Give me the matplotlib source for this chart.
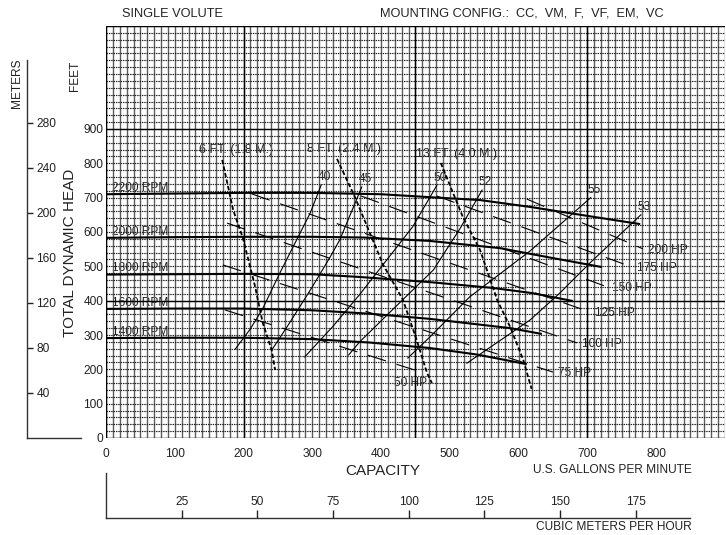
import numpy as np
import matplotlib.pyplot as plt

plt.rcParams['font.family'] = ['Liberation Sans', 'DejaVu Sans']

# head-capacity curves, capacity in US GPM, head in feet
rpm_names = ['2200 RPM', '2000 RPM', '1800 RPM', '1600 RPM', '1400 RPM']
q_2200 = [0, 100, 200, 300, 400, 500, 544, 617, 700, 777]
h_2200 = [710, 712, 714, 714, 710, 698, 693, 673, 647, 623]
q_2000 = [0, 100, 200, 300, 374, 471, 573, 650, 721]
h_2000 = [583, 585, 586, 586, 584, 574, 553, 524, 498]
q_1800 = [0, 100, 200, 300, 369, 471, 563, 620, 679]
h_1800 = [476, 477, 478, 477, 469, 454, 437, 422, 399]
q_1600 = [0, 100, 200, 300, 384, 471, 588, 634]
h_1600 = [376, 377, 377, 372, 362, 347, 320, 303]
q_1400 = [0, 100, 200, 300, 384, 471, 540, 612]
h_1400 = [291, 292, 292, 288, 278, 262, 243, 215]

# efficiency lines (%)
eff_names = ['40', '45', '50', '52', '55', '53']
q_e40 = [188, 209, 227, 253, 275, 297, 313]
h_e40 = [259, 315, 373, 481, 568, 655, 737]
q_e45 = [241, 265, 300, 326, 340, 372]
h_e45 = [256, 329, 440, 527, 577, 731]
q_e50 = [289, 330, 369, 405, 446, 481]
h_e50 = [236, 325, 418, 510, 615, 735]
q_e52 = [353, 369, 420, 476, 515, 547]
h_e52 = [242, 280, 380, 489, 610, 722]
q_e55 = [439, 471, 529, 617, 705]
h_e55 = [233, 294, 411, 545, 700]
q_e53 = [525, 617, 660, 704, 778]
h_e53 = [218, 344, 422, 510, 650]

# brake horsepower lines
hp_names = ['200 HP', '175 HP', '150 HP', '125 HP', '100 HP', '75 HP', '50 HP']
hp_q = [[612, 781], [481, 765], [371, 729], [212, 704], [176, 685], [170, 650], [173, 449]]
hp_h = [[696, 551], [705, 498], [705, 440], [711, 367], [626, 277], [504, 192], [373, 198]]

# NPSH required lines
npsh_names = ['6 FT. (1.8 M.)', '8 FT. (2.4 M.)', '13 FT. (4.0 M.)']
q_n6 = [169, 185, 199, 217, 228, 241, 246]
h_n6 = [810, 664, 583, 440, 335, 256, 198]
q_n8 = [336, 362, 403, 432, 452, 467, 474]
h_n8 = [813, 702, 505, 402, 285, 189, 160]
q_n13 = [487, 519, 544, 569, 588, 607, 619]
h_n13 = [801, 644, 548, 402, 323, 227, 143]

gpm_ticks = [0, 100, 200, 300, 400, 500, 600, 700, 800]
feet_ticks = [0, 100, 200, 300, 400, 500, 600, 700, 800, 900]
meter_ticks = [40, 80, 120, 160, 200, 240, 280]
m3h_ticks = [25, 50, 75, 100, 125, 150, 175]

W, H = 726, 535
fig = plt.figure(figsize=(W / 100, H / 100), dpi=100)
ax = fig.add_axes([106 / W, 97 / H, 618.75 / W, 412 / H])
ax.set_xlim(0, 900)
ax.set_ylim(0, 1200)
for s in ax.spines.values():
    s.set_visible(False)

# chart paper grid
ax.vlines(np.arange(0, 901, 10), 0, 1200, colors='#5c5c5c', lw=1.0, zorder=2)
ax.hlines(np.arange(0, 1201, 20), 0, 900, colors='#1e1e1e', lw=0.85,
          linestyles=(0, (1.2, 0.8)), zorder=2)
ax.vlines([0, 200, 450, 700], 0, 1200, colors='black', lw=1.0, zorder=2.1)
ax.hlines([0, 400, 900, 1200], 0, 900, colors='black', lw=1.0, zorder=2.1)

ax.set_xticks(gpm_ticks)
ax.set_yticks(feet_ticks)
ax.tick_params(length=0, labelsize=8.6, colors='#222')
ax.tick_params(axis='x', pad=7)
ax.tick_params(axis='y', pad=2)

txt = dict(fontsize=8.6, color='#222', zorder=1.5)

# head curves
rpm_q = [q_2200, q_2000, q_1800, q_1600, q_1400]
rpm_h = [h_2200, h_2000, h_1800, h_1600, h_1400]
for name, q, h in zip(rpm_names, rpm_q, rpm_h):
    ax.plot(q, h, color='black', lw=1.5, zorder=4, solid_capstyle='butt')
    ax.annotate(name, (q[0], h[0]), xytext=(4.5, 4.5), textcoords='offset points',
                ha='left', va='center', **txt)

# efficiency lines
eff_q = [q_e40, q_e45, q_e50, q_e52, q_e55, q_e53]
eff_h = [h_e40, h_e45, h_e50, h_e52, h_e55, h_e53]
for name, q, h in zip(eff_names, eff_q, eff_h):
    ax.plot(q, h, color='black', lw=0.8, zorder=4)
    ax.annotate(name, (q[-1], h[-1]), xytext=(-2.5, 1.5), textcoords='offset points',
                ha='left', va='bottom', **txt)

# horsepower lines
for name, q, h in zip(hp_names, hp_q, hp_h):
    ax.plot(q, h, color='black', lw=0.8, linestyle=(0, (17, 10)), zorder=4)
    if name == '50 HP':
        ax.annotate(name, (q[-1], h[-1]), xytext=(-3, -5), textcoords='offset points',
                    ha='center', va='top', **txt)
    else:
        ax.annotate(name, (q[-1], h[-1]), xytext=(3.5, -1), textcoords='offset points',
                    ha='left', va='center', **txt)

# NPSH lines
npsh_q = [q_n6, q_n8, q_n13]
npsh_h = [h_n6, h_n8, h_n13]
npsh_dx = [10, 5, 11]
for name, q, h, dx in zip(npsh_names, npsh_q, npsh_h, npsh_dx):
    ax.plot(q, h, color='black', lw=1.3, linestyle=(0, (2.4, 1.3)), zorder=4)
    ax.annotate(name, (q[0], h[0]), xytext=(dx, 2.5), textcoords='offset points',
                ha='center', va='bottom', fontsize=9, color='#222', zorder=1.5)

# meters scale on the left
axm = fig.add_axes([27 / W, 97 / H, 54 / W, 412 / H])
axm.set_ylim(0, 1200 * 0.3048)
axm.set_xlim(0, 1)
axm.patch.set_visible(False)
axm.spines['left'].set_visible(False)
axm.spines['top'].set_visible(False)
axm.spines['right'].set_position(('axes', 0))
axm.spines['right'].set_bounds(0, 336)
for s in ['right', 'bottom']:
    axm.spines[s].set_color('#333')
    axm.spines[s].set_linewidth(1.0)
axm.set_xticks([])
axm.yaxis.tick_right()
axm.set_yticks(meter_ticks)
axm.tick_params(axis='y', direction='out', length=4.3, width=1, pad=2.5,
                labelsize=8.6, colors='#222')

# cubic meters per hour scale at the bottom
axc = fig.add_axes([106 / W, 17 / H, 618.75 / W, 45 / H])
axc.set_xlim(0, 900 / 4.4029)
axc.set_ylim(0, 1)
axc.patch.set_visible(False)
axc.spines['right'].set_visible(False)
axc.spines['bottom'].set_visible(False)
axc.spines['top'].set_position(('axes', 0))
axc.spines['top'].set_bounds(0, 193)
for s in ['top', 'left']:
    axc.spines[s].set_color('#333')
    axc.spines[s].set_linewidth(1.0)
axc.set_yticks([])
axc.xaxis.tick_top()
axc.set_xticks(m3h_ticks)
axc.tick_params(axis='x', direction='out', length=5.8, width=1, pad=1.5,
                labelsize=8.6, colors='#222')

# titles and axis captions
fig.text(122 / W, 1 - 14 / H, 'SINGLE VOLUTE', fontsize=9.2, ha='left', va='center', color='#222')
fig.text(380 / W, 1 - 14 / H, 'MOUNTING CONFIG.:  CC,  VM,  F,  VF,  EM,  VC',
         fontsize=9.2, ha='left', va='center', color='#222')
fig.text(70 / W, 1 - 253 / H, 'TOTAL DYNAMIC HEAD', fontsize=11, rotation=90,
         ha='center', va='center', color='#222')
fig.text(75 / W, 1 - 76 / H, 'FEET', fontsize=8.6, rotation=90, ha='center', va='center', color='#222')
fig.text(17 / W, 1 - 83 / H, 'METERS', fontsize=8.6, rotation=90, ha='center', va='center', color='#222')
fig.text(383 / W, 1 - 471 / H, 'CAPACITY', fontsize=11, ha='center', va='center', color='#222')
fig.text(692 / W, 1 - 470 / H, 'U.S. GALLONS PER MINUTE', fontsize=8.6, ha='right', va='center', color='#222')
fig.text(692 / W, 1 - 527 / H, 'CUBIC METERS PER HOUR', fontsize=8.6, ha='right', va='center', color='#222')

fig.savefig('out.png', dpi=100)
